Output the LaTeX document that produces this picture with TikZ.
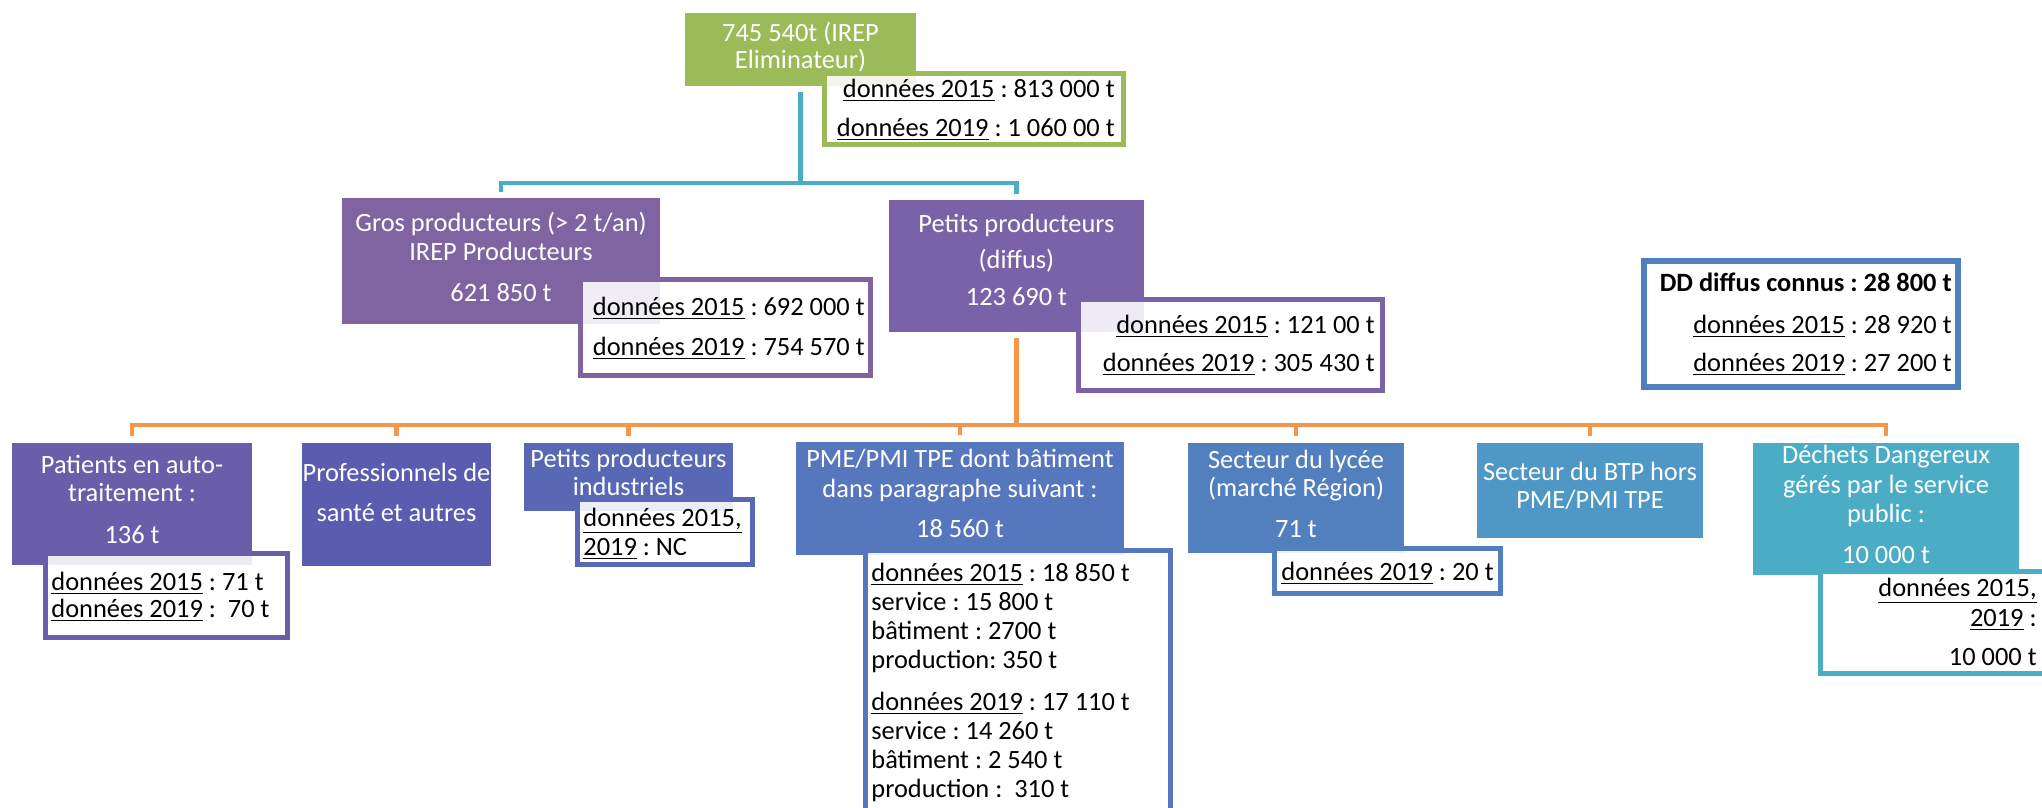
\documentclass[tikz,border=0pt]{standalone}
\usepackage{fontspec}
\setmainfont{Carlito}
\usetikzlibrary{fit}
\frenchspacing
\definecolor{cGreen}{HTML}{9BBB59}
\definecolor{cGros}{HTML}{8064A2}
\definecolor{cPetits}{HTML}{7A62A8}
\definecolor{cPatients}{HTML}{6A5EAA}
\definecolor{cProf}{HTML}{5A5CAF}
\definecolor{cIndus}{HTML}{5868B5}
\definecolor{cPme}{HTML}{5677BD}
\definecolor{cLycee}{HTML}{5280BE}
\definecolor{cBtp}{HTML}{4F97C4}
\definecolor{cDechets}{HTML}{4BACC6}
\definecolor{cDD}{HTML}{4F81BD}
\definecolor{cAqua}{HTML}{4BACC6}
\definecolor{cOrange}{HTML}{F79646}
\newcommand\mytabc[1]{\begin{tabular}[t]{@{}c@{}}#1\end{tabular}}
\newcommand\mytabl[1]{\begin{tabular}[t]{@{}l@{}}#1\end{tabular}}
\newcommand\mytabr[1]{\begin{tabular}[t]{@{}r@{}}#1\end{tabular}}
\begin{document}
\begin{tikzpicture}[x=0.5pt,y=-0.5pt,
  every node/.style={font=\fontsize{13.2}{14.5}\selectfont},
  mainbox/.style={inner sep=0pt},
  databox/.style={inner sep=-1.25pt, line width=2.5pt, fill=white, fill opacity=0.88, draw opacity=1},
  wtxt/.style={inner sep=0pt, text=white},
  btxt/.style={inner sep=0pt, text=black},
  conn/.style={line width=2.3pt}]
\useasboundingbox (0,0) rectangle (2042,808);
\clip (0,0) rectangle (2042,808);

% main boxes
\node[mainbox, fill=cGreen, fit={(685,13)(916,86)}] (green) {};
\node[mainbox, fill=cGros, fit={(342,198)(660,324)}] (gros) {};
\node[mainbox, fill=cPetits, fit={(889,200)(1144,332)}] (petits) {};
\node[mainbox, fill=cPatients, fit={(12,443)(252,565)}] (patients) {};
\node[mainbox, fill=cProf, fit={(302,443)(491,566)}] (prof) {};
\node[mainbox, fill=cIndus, fit={(524,443)(733,511)}] (indus) {};
\node[mainbox, fill=cPme, fit={(796,442)(1124,555)}] (pme) {};
\node[mainbox, fill=cLycee, fit={(1188,443)(1404,553)}] (lycee) {};
\node[mainbox, fill=cBtp, fit={(1477,443)(1703,538)}] (btp) {};
\node[mainbox, fill=cDechets, fit={(1753,443)(2019,575)}] (dechets) {};

% main texts
\node[wtxt, anchor=base] (greent) at (800.5,41.5) {\mytabc{745 540t (IREP\\[-1pt]Eliminateur)}};
\node[wtxt, anchor=base] (grost) at (501,231.5) {\mytabc{Gros producteurs (> 2 t/an)\\IREP Producteurs\\[6pt]621 850 t}};
\node[wtxt, anchor=base] (petitst) at (1016.5,232.5) {\mytabc{Petits producteurs\\[3.5pt](diffus)\\[4pt]123 690 t}};
\node[wtxt, anchor=base] (patientst) at (132,473.5) {\mytabc{Patients en auto-\\[-0.5pt]traitement :\\[6.5pt]136 t}};
\node[wtxt, anchor=base] (proft) at (396.5,481.5) {\mytabc{Professionnels de\\[5.5pt]santé et autres}};
\node[wtxt, anchor=base] (indust) at (628.5,467.5) {\mytabc{Petits producteurs\\[-0.5pt]industriels}};
\node[wtxt, anchor=base] (pmet) at (960,467.5) {\mytabc{PME/PMI TPE dont bâtiment\\[0.5pt]dans paragraphe suivant :\\[5.5pt]18 560 t}};
\node[wtxt, anchor=base] (lyceet) at (1296,468.5) {\mytabc{Secteur du lycée\\[-0.5pt](marché Région)\\[6pt]71 t}};
\node[wtxt, anchor=base] (btpt) at (1590,480.5) {\mytabc{Secteur du BTP hors\\[-0.5pt]PME/PMI TPE}};
\node[wtxt, anchor=base] (dechetst) at (1886,463.5) {\mytabc{Déchets Dangereux\\[0.5pt]gérés par le service\\public :\\[6pt]10 000 t}};

% data boxes
\node[databox, draw=cDD, line width=3pt, inner sep=-1.5pt, fit={(1641,258)(1961,390)}] (dd) {};
\node[databox, draw=cGreen, fit={(822,71)(1126,147)}] (greend) {};
\node[databox, draw=cGros, fit={(578,277)(873,378)}] (grosd) {};
\node[databox, draw=cPetits, fit={(1076,297)(1385,393)}] (petitsd) {};
\node[databox, draw=cPatients, fit={(43,551)(290,640)}] (patientsd) {};
\node[databox, draw=cIndus, fit={(575,497)(755,567)}] (indusd) {};
\node[databox, draw=cPme, fit={(863,548)(1173,830)}] (pmed) {};
\node[databox, draw=cLycee, fit={(1272,546)(1503,596)}] (lycead) {};
\node[databox, draw=cDechets, fit={(1818,569)(2047,676)}] (dechetsd) {};

% data texts
\node[btxt, anchor=base east] (ddt) at (1952,291.5) {\mytabr{\textbf{DD diffus connus : 28 800 t}\\[6.5pt]\underline{données 2015} : 28 920 t\\[4.5pt]\underline{données 2019} : 27 200 t}};
\node[btxt, anchor=base east] (greendt) at (1115,97.5) {\mytabr{\underline{données 2015} : 813 000 t\\[5pt]\underline{données 2019} : 1 060 00 t}};
\node[btxt, anchor=base east] (grosdt) at (865,315.5) {\mytabr{\underline{données 2015} : 692 000 t\\[5.5pt]\underline{données 2019} : 754 570 t}};
\node[btxt, anchor=base east] (petitsdt) at (1375,333.5) {\mytabr{\underline{données 2015} : 121 00 t\\[4.5pt]\underline{données 2019} : 305 430 t}};
\node[btxt, anchor=base west] (patientsdt) at (51,590.5) {\mytabl{\underline{données 2015} : 71 t\\[-1pt]\underline{données 2019} : \ 70 t}};
\node[btxt, anchor=base west] (indusdt) at (583,526.5) {\mytabl{\underline{données 2015,}\\\underline{2019} : NC}};
\node[btxt, anchor=base west] (pmedt) at (871,581.5) {\mytabl{\underline{données 2015} : 18 850 t\\
service : 15 800 t\\
bâtiment : 2700 t\\
production: 350 t\\[6.5pt]
\underline{données 2019} : 17 110 t\\
service : 14 260 t\\
bâtiment : 2 540 t\\
production : \ 310 t}};
\node[btxt, anchor=base west] (lyceadt) at (1281,580.5) {\mytabl{\underline{données 2019} : 20 t}};
\node[btxt, anchor=base east] (dechetsdt) at (2037,596.5) {\mytabr{\underline{données 2015,}\\[0.5pt]\underline{2019} :\\[5pt]10 000 t}};

% connectors
\coordinate (bj) at (801,183);
\draw[conn, draw=cAqua] ([yshift=-3pt]green.south) -- (green.south |- bj);
\draw[conn, draw=cAqua] ([yshift=3pt]gros.north) -- (gros.north |- bj) -- (petits.north |- bj) -- ([yshift=3pt]petits.north);
\coordinate (oj) at (1017,425);
\draw[conn, draw=cOrange] ([yshift=-3pt]petits.south) -- (petits.south |- oj);
\draw[conn, draw=cOrange] ([yshift=3.5pt]patients.north) -- (patients.north |- oj) -- (dechets.north |- oj) -- ([yshift=3.5pt]dechets.north);
\foreach \n in {prof,indus,pme,lycee,btp}
  \draw[conn, draw=cOrange] (\n.north |- oj) -- ([yshift=3.5pt]\n.north);
\end{tikzpicture}
\end{document}
